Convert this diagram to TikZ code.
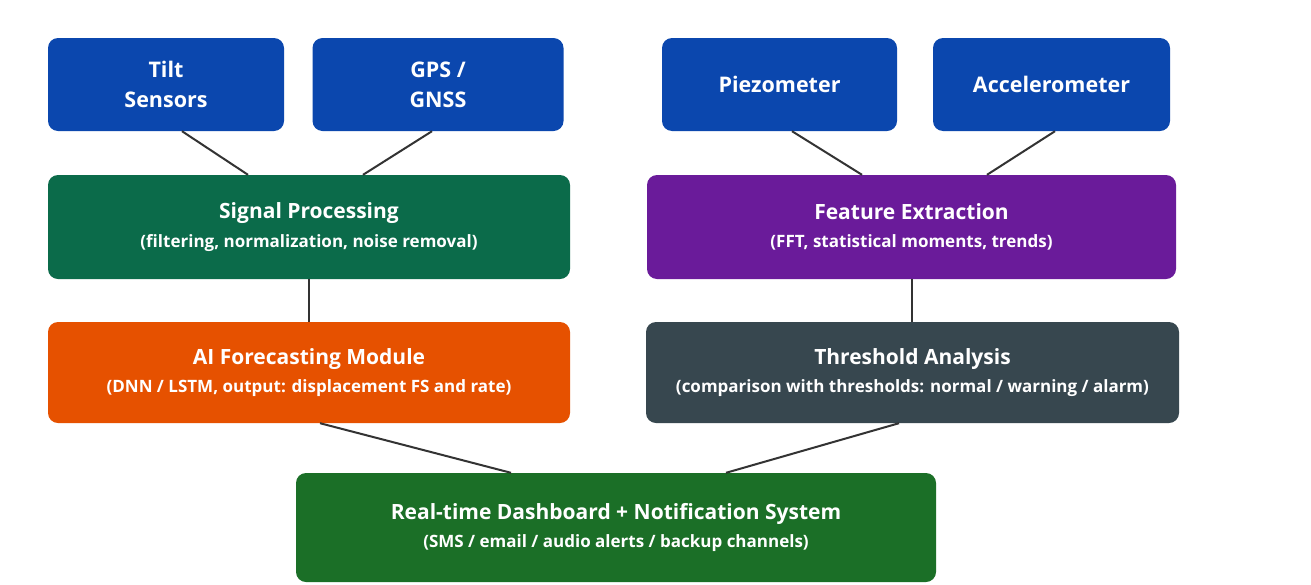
\documentclass[tikz,border=0pt]{standalone}
\usepackage{fontspec}
\setmainfont{Open Sans}
\usetikzlibrary{calc}
\definecolor{sensorblue}{HTML}{0B47AE}
\definecolor{sigteal}{HTML}{0B6B4A}
\definecolor{featpurple}{HTML}{6A1B9A}
\definecolor{aiorange}{HTML}{E65100}
\definecolor{thrgrey}{HTML}{37474F}
\definecolor{dashgreen}{HTML}{1B6F27}
\definecolor{linkgrey}{HTML}{333333}
\tikzset{
  box/.style={rounded corners=10pt, text=white, align=center, inner sep=0pt},
  sensorbox/.style={box, fill=sensorblue, minimum height=93pt, font=\bfseries\fontsize{21.5}{30}\selectfont},
  stagebox/.style={box, minimum height=104pt, font=\bfseries\fontsize{17}{28.5}\selectfont},
  link/.style={draw=linkgrey, line width=2pt},
}
\newcommand{\ttl}[1]{{\fontsize{21}{28.5}\selectfont #1}}
\begin{document}
\begin{tikzpicture}[x=1pt,y=-1pt]
\useasboundingbox (0,0) rectangle (1311,584);
\fill[white] (0,0) rectangle (1311,584);

\node[sensorbox, minimum width=236pt] (tilt) at (166,84.5) {Tilt\\Sensors};
\node[sensorbox, minimum width=251pt] (gps) at (438,84.5) {GPS /\\GNSS};
\node[sensorbox, minimum width=235pt] (piezo) at (779.5,84.5) {Piezometer};
\node[sensorbox, minimum width=237pt] (accel) at (1051.5,84.5) {Accelerometer};

\node[stagebox, fill=sigteal, minimum width=522pt] (sig) at (309,227) {\ttl{Signal Processing}\\(filtering, normalization, noise removal)};
\node[stagebox, fill=featpurple, minimum width=529pt] (feat) at (911.5,227) {\ttl{Feature Extraction}\\(FFT, statistical moments, trends)};

\node[stagebox, fill=aiorange, minimum width=522pt, minimum height=101pt] (ai) at (309,372.5) {\ttl{AI Forecasting Module}\\(DNN / LSTM, output: displacement FS and rate)};
\node[stagebox, fill=thrgrey, minimum width=533pt, minimum height=101pt] (thr) at (912.5,372.5) {\ttl{Threshold Analysis}\\(comparison with thresholds: normal / warning / alarm)};

\node[stagebox, fill=dashgreen, minimum width=640pt, minimum height=109pt] (dash) at (616,527.5) {\ttl{Real-time Dashboard + Notification System}\\(SMS / email / audio alerts / backup channels)};

\draw[link] ([xshift=16pt]tilt.south) -- ([xshift=-61pt]sig.north);
\draw[link] ([xshift=-6pt]gps.south) -- ([xshift=54pt]sig.north);
\draw[link] ([xshift=12.5pt]piezo.south) -- ([xshift=-49.5pt]feat.north);
\draw[link] ([xshift=3.5pt]accel.south) -- ([xshift=75.5pt]feat.north);
\draw[link] (sig.south) -- (ai.north);
\draw[link] (feat.south) -- (feat.south |- thr.north);
\draw[link] ([xshift=11pt]ai.south) -- ([xshift=-105pt]dash.north);
\draw[link] ([xshift=-13.5pt]thr.south) -- ([xshift=110pt]dash.north);
\end{tikzpicture}
\end{document}
